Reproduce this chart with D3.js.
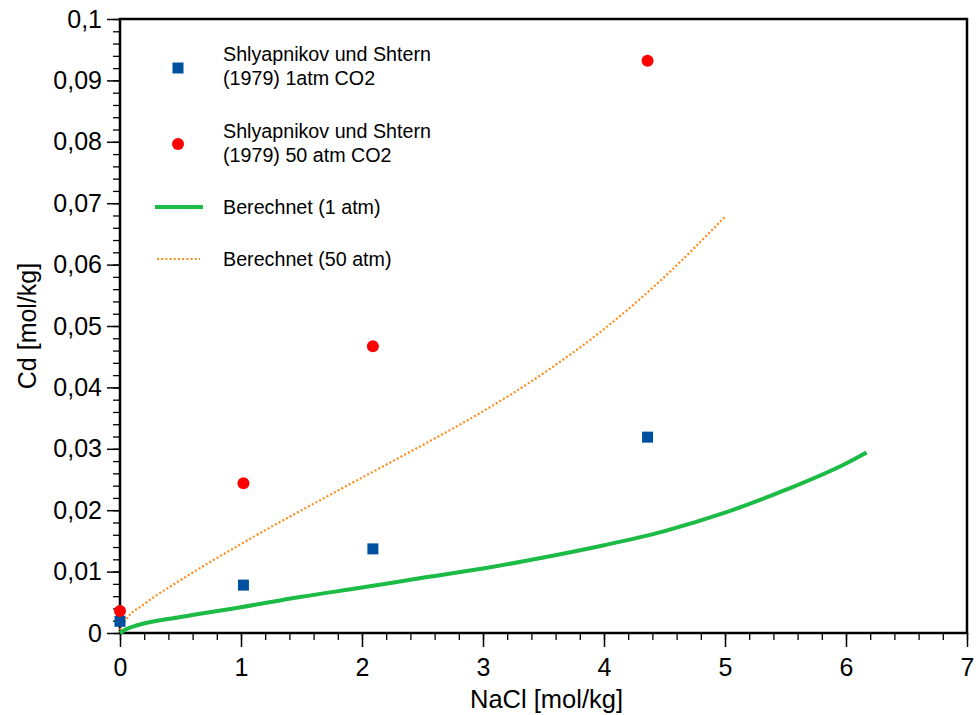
<!DOCTYPE html>
<html><head><meta charset="utf-8">
<script src="https://cdn.jsdelivr.net/npm/d3@7"></script>
<style>
html,body{margin:0;padding:0;background:#fff;}
svg{display:block;font-family:Arial,"Liberation Sans",sans-serif;}
</style></head>
<body>
<svg id="chart" width="978" height="715"></svg>
<script>
// Data
const xTicks = [0,1,2,3,4,5,6,7];
const yTicks = [0,0.01,0.02,0.03,0.04,0.05,0.06,0.07,0.08,0.09,0.1];
const xTickLabels = ["0","1","2","3","4","5","6","7"];
const yTickLabels = ["0","0,01","0,02","0,03","0,04","0,05","0,06","0,07","0,08","0,09","0,1"];

const exp1atmX = [0, 1.02, 2.09, 4.36];
const exp1atmY = [0.0019, 0.0078, 0.0137, 0.0319];
const exp50atmX = [0, 1.02, 2.09, 4.36];
const exp50atmY = [0.0036, 0.0244, 0.0467, 0.0932];

const calc1X = [0, 0.05, 0.15, 0.5, 1, 1.5, 2, 2.5, 3, 3.5, 4, 4.5, 5, 5.5, 6, 6.17];
const calc1Y = [0, 0.0006, 0.0013, 0.0026, 0.0042, 0.0059, 0.0074, 0.0090, 0.0105, 0.0123, 0.0143, 0.0166, 0.0196, 0.0233, 0.0276, 0.0294];
const calc50X = [0, 0.05, 0.2, 0.5, 1, 1.5, 2, 2.5, 3, 3.5, 4, 4.5, 5];
const calc50Y = [0.0005, 0.0022, 0.0047, 0.0086, 0.0145, 0.0200, 0.0253, 0.0306, 0.0361, 0.0423, 0.0495, 0.0580, 0.0678];

const legendLabels = [
  ["Shlyapnikov und Shtern", "(1979) 1atm CO2"],
  ["Shlyapnikov und Shtern", "(1979) 50 atm CO2"],
  ["Berechnet (1 atm)"],
  ["Berechnet (50 atm)"]
];
const xTitle = "NaCl [mol/kg]";
const yTitle = "Cd [mol/kg]";

const svg = d3.select("#chart");
const L = 120, R = 967, T = 19, B = 633;
const x = d3.scaleLinear().domain([0,7]).range([L,R]);
const y = d3.scaleLinear().domain([0,0.1]).range([B,T]);

// minor ticks
const xMinor = d3.range(0, 7.0001, 0.2).map(v => +v.toFixed(2));
const yMinor = d3.range(0, 0.10001, 0.002).map(v => +v.toFixed(4));

const gxm = svg.append("g").attr("transform", `translate(0,${B})`)
  .call(d3.axisBottom(x).tickValues(xMinor).tickSize(7).tickFormat(""));
const gym = svg.append("g").attr("transform", `translate(${L},0)`)
  .call(d3.axisLeft(y).tickValues(yMinor).tickSize(7).tickFormat(""));
[gxm, gym].forEach(g => { g.select(".domain").remove(); g.selectAll("line").attr("stroke","#000").attr("stroke-width",1.3); });

const gx = svg.append("g").attr("transform", `translate(0,${B})`)
  .call(d3.axisBottom(x).tickValues(xTicks).tickSize(14).tickPadding(11)
    .tickFormat((d,i) => xTickLabels[i]));
const gy = svg.append("g").attr("transform", `translate(${L},0)`)
  .call(d3.axisLeft(y).tickValues(yTicks).tickSize(13).tickPadding(5)
    .tickFormat((d,i) => yTickLabels[i]));
[gx, gy].forEach(g => {
  g.select(".domain").remove();
  g.selectAll("line").attr("stroke","#000").attr("stroke-width",1.5);
  g.selectAll("text").attr("fill","#000").style("font-size","25px").style("font-family","Arial, 'Liberation Sans', sans-serif");
});

// frame
svg.append("rect").attr("x",L).attr("y",T).attr("width",R-L).attr("height",B-T)
  .attr("fill","none").attr("stroke","#000").attr("stroke-width",2.5);

// curves
const line = d3.line().x(d => x(d[0])).y(d => y(d[1])).curve(d3.curveMonotoneX);
svg.append("path").datum(calc50X.map((v,i)=>[v,calc50Y[i]]))
  .attr("d", line).attr("fill","none").attr("stroke","#ff8c1a")
  .attr("stroke-width",2.2).attr("stroke-dasharray","2,2.2");
svg.append("path").datum(calc1X.map((v,i)=>[v,calc1Y[i]]))
  .attr("d", line).attr("fill","none").attr("stroke","#1cbb45")
  .attr("stroke-width",4);

// markers
const sq = 11;
svg.selectAll(".sq").data(exp1atmX.map((v,i)=>[v,exp1atmY[i]])).enter().append("rect")
  .attr("x", d => x(d[0]) - sq/2).attr("y", d => y(d[1]) - sq/2)
  .attr("width", sq).attr("height", sq).attr("fill","#0050a0");
svg.selectAll(".ci").data(exp50atmX.map((v,i)=>[v,exp50atmY[i]])).enter().append("circle")
  .attr("cx", d => x(d[0])).attr("cy", d => y(d[1])).attr("r", 6).attr("fill","#ff0000");

// legend
const lg = svg.append("g").style("font-size","19.7px").attr("fill","#000");
lg.append("rect").attr("x",178-sq/2).attr("y",68-sq/2).attr("width",sq).attr("height",sq).attr("fill","#0050a0");
lg.append("circle").attr("cx",178).attr("cy",144).attr("r",6).attr("fill","#ff0000");
lg.append("line").attr("x1",155).attr("x2",203).attr("y1",207).attr("y2",207).attr("stroke","#1cbb45").attr("stroke-width",4);
lg.append("line").attr("x1",157).attr("x2",200).attr("y1",259).attr("y2",259).attr("stroke","#ff8c1a").attr("stroke-width",2.2).attr("stroke-dasharray","2,2.2");
const baselines = [[61,85],[138,162],[214],[266]];
legendLabels.forEach((lines, i) => {
  lines.forEach((t, j) => {
    lg.append("text").attr("x",223).attr("y",baselines[i][j]).text(t);
  });
});

// axis titles
svg.append("text").attr("x",(L+R)/2+3).attr("y",708).attr("text-anchor","middle")
  .style("font-size","25.5px").text(xTitle);
svg.append("text").attr("transform",`translate(36,${(T+B)/2}) rotate(-90)`).attr("text-anchor","middle")
  .style("font-size","25px").text(yTitle);
</script>
</body></html>
